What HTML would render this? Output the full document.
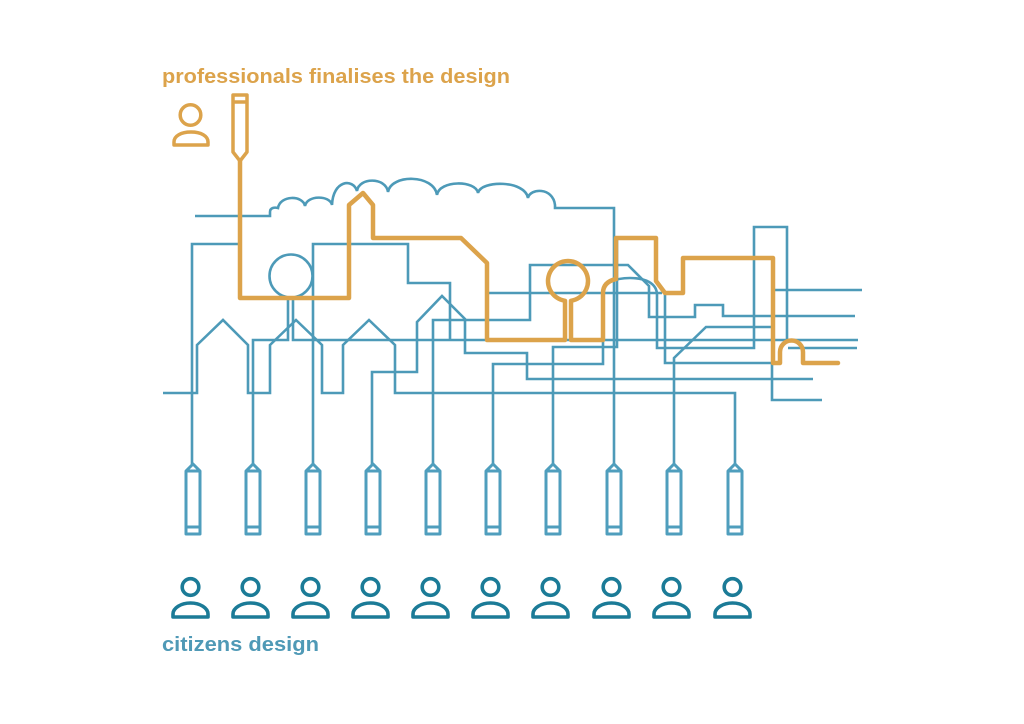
<!DOCTYPE html>
<html>
<head>
<meta charset="utf-8">
<style>
  html, body { margin: 0; padding: 0; background: #ffffff; }
  svg { display: block; }
</style>
</head>
<body>
<svg width="1024" height="724" viewBox="0 0 1024 724" xmlns="http://www.w3.org/2000/svg">
  <rect x="0" y="0" width="1024" height="724" fill="#ffffff"/>

  <!-- title -->
  <text x="162" y="83" font-family="Liberation Sans, sans-serif" font-weight="bold" font-size="20" fill="#dca34b" textLength="348" lengthAdjust="spacingAndGlyphs">professionals finalises the design</text>

  <!-- orange person -->
  <g fill="none" stroke="#dca34b" stroke-width="3.5" stroke-linejoin="round">
    <circle cx="190.5" cy="115" r="10.3"/>
    <path d="M174,145 L174,142 C174,136 181,132 191,132 C201,132 208,136 208,142 L208,145 Z"/>
    <!-- orange pencil -->
    <path d="M233,95 L247,95 L247,152 L240,161 L233,152 Z"/>
    <path d="M233,102 L247,102"/>
  </g>

  <!-- blue network -->
  <g fill="none" stroke="#4d9ab8" stroke-width="2.6" stroke-linejoin="miter" stroke-linecap="butt">
    <path d="M195,216 L270,216 L270,212 C270,208 274,207 278,208 C280,195 303,195 305,206 C307,195 330,195 332,205 C333,180 353,178 357,191 C359,177 386,177 388,192 C391,174 434,174 437,195 C439,180 476,180 478,193 C481,180 525,180 528,198 C530,188 553,187 555,205 L555,208 L614,208 L614,466"/>
    <path d="M192,466 L192,244 L240,244"/>
    <path d="M253,466 L253,340 L288,340 L288,297"/>
    <circle cx="291" cy="276" r="21.5"/>
    <path d="M293,297 L293,340 L858,340"/>
    <path d="M313,466 L313,244 L408,244 L408,283 L450,283 L450,340"/>
    <path d="M372,466 L372,372 L417,372 L417,322 L442,296 L465,319 L465,353 L527,353 L527,379 L813,379"/>
    <path d="M433,466 L433,320 L530,320 L530,265 L628,265 L643,280 L649,286 L649,317 L695,317 L695,305 L723,305 L723,316 L855,316"/>
    <path d="M493,466 L493,364 L603,364 L603,292 C603,283 615,278 630,278 C645,278 657,283 657,295 L657,348 L754,348 L754,227 L787,227 L787,340"/>
    <path d="M553,466 L553,347 L617,347 L617,238"/>
    <path d="M674,466 L674,358 L706,327 L772,327"/>
    <path d="M735,466 L735,393 L395,393 L395,345 L369,320 L343,345 L343,393 L322,393 L322,345 L296,320 L270,345 L270,393 L248,393 L248,345 L223,320 L197,345 L197,393 L163,393"/>
    <path d="M665,291 L665,363 L772,363 L772,400 L822,400"/>
    <path d="M775,290 L862,290"/>
    <path d="M788,348 L857,348"/>
    <path d="M488,293 L662,293"/>
  </g>

  <!-- orange route -->
  <path d="M240,161 L240,298 L349,298 L349,205 L363,193 L373,205 L373,238 L461,238 L487,263 L487,340 L565,340 L565,300.8 A20,20 0 1 1 571,300.8 L571,340 L603,340 L603,293 Q603,282 616,279 L616,238 L656,238 L656,281 L665,293 L683,293 L683,258 L773,258 L773,363 L780,363 L780,352 A11.5,11.5 0 0 1 803,352 L803,363 L838,363"
        fill="none" stroke="#dca34b" stroke-width="4.5" stroke-linejoin="round" stroke-linecap="round"/>

  <!-- blue pencils -->
  <g fill="none" stroke="#4f9ebd" stroke-width="3" stroke-linejoin="round">
    <g transform="translate(0,0)"><path d="M186,534 L186,471 L193,464 L200,471 L200,534 Z M186,471 L200,471 M186,527 L200,527"/></g>
    <g transform="translate(60,0)"><path d="M186,534 L186,471 L193,464 L200,471 L200,534 Z M186,471 L200,471 M186,527 L200,527"/></g>
    <g transform="translate(120,0)"><path d="M186,534 L186,471 L193,464 L200,471 L200,534 Z M186,471 L200,471 M186,527 L200,527"/></g>
    <g transform="translate(180,0)"><path d="M186,534 L186,471 L193,464 L200,471 L200,534 Z M186,471 L200,471 M186,527 L200,527"/></g>
    <g transform="translate(240,0)"><path d="M186,534 L186,471 L193,464 L200,471 L200,534 Z M186,471 L200,471 M186,527 L200,527"/></g>
    <g transform="translate(300,0)"><path d="M186,534 L186,471 L193,464 L200,471 L200,534 Z M186,471 L200,471 M186,527 L200,527"/></g>
    <g transform="translate(360,0)"><path d="M186,534 L186,471 L193,464 L200,471 L200,534 Z M186,471 L200,471 M186,527 L200,527"/></g>
    <g transform="translate(421,0)"><path d="M186,534 L186,471 L193,464 L200,471 L200,534 Z M186,471 L200,471 M186,527 L200,527"/></g>
    <g transform="translate(481,0)"><path d="M186,534 L186,471 L193,464 L200,471 L200,534 Z M186,471 L200,471 M186,527 L200,527"/></g>
    <g transform="translate(542,0)"><path d="M186,534 L186,471 L193,464 L200,471 L200,534 Z M186,471 L200,471 M186,527 L200,527"/></g>
  </g>

  <!-- citizens -->
  <g fill="none" stroke="#1b7b97" stroke-width="3.6" stroke-linejoin="round">
    <g transform="translate(0,0)"><circle cx="190.5" cy="587" r="8.3"/><path d="M173,617 L173,614 C173,608 181,603 190.5,603 C200,603 208,608 208,614 L208,617 Z"/></g>
    <g transform="translate(60,0)"><circle cx="190.5" cy="587" r="8.3"/><path d="M173,617 L173,614 C173,608 181,603 190.5,603 C200,603 208,608 208,614 L208,617 Z"/></g>
    <g transform="translate(120,0)"><circle cx="190.5" cy="587" r="8.3"/><path d="M173,617 L173,614 C173,608 181,603 190.5,603 C200,603 208,608 208,614 L208,617 Z"/></g>
    <g transform="translate(180,0)"><circle cx="190.5" cy="587" r="8.3"/><path d="M173,617 L173,614 C173,608 181,603 190.5,603 C200,603 208,608 208,614 L208,617 Z"/></g>
    <g transform="translate(240,0)"><circle cx="190.5" cy="587" r="8.3"/><path d="M173,617 L173,614 C173,608 181,603 190.5,603 C200,603 208,608 208,614 L208,617 Z"/></g>
    <g transform="translate(300,0)"><circle cx="190.5" cy="587" r="8.3"/><path d="M173,617 L173,614 C173,608 181,603 190.5,603 C200,603 208,608 208,614 L208,617 Z"/></g>
    <g transform="translate(360,0)"><circle cx="190.5" cy="587" r="8.3"/><path d="M173,617 L173,614 C173,608 181,603 190.5,603 C200,603 208,608 208,614 L208,617 Z"/></g>
    <g transform="translate(421,0)"><circle cx="190.5" cy="587" r="8.3"/><path d="M173,617 L173,614 C173,608 181,603 190.5,603 C200,603 208,608 208,614 L208,617 Z"/></g>
    <g transform="translate(481,0)"><circle cx="190.5" cy="587" r="8.3"/><path d="M173,617 L173,614 C173,608 181,603 190.5,603 C200,603 208,608 208,614 L208,617 Z"/></g>
    <g transform="translate(542,0)"><circle cx="190.5" cy="587" r="8.3"/><path d="M173,617 L173,614 C173,608 181,603 190.5,603 C200,603 208,608 208,614 L208,617 Z"/></g>
  </g>

  <text x="162" y="651" font-family="Liberation Sans, sans-serif" font-weight="bold" font-size="20" fill="#4f99b6" textLength="157" lengthAdjust="spacingAndGlyphs">citizens design</text>
</svg>
</body>
</html>
